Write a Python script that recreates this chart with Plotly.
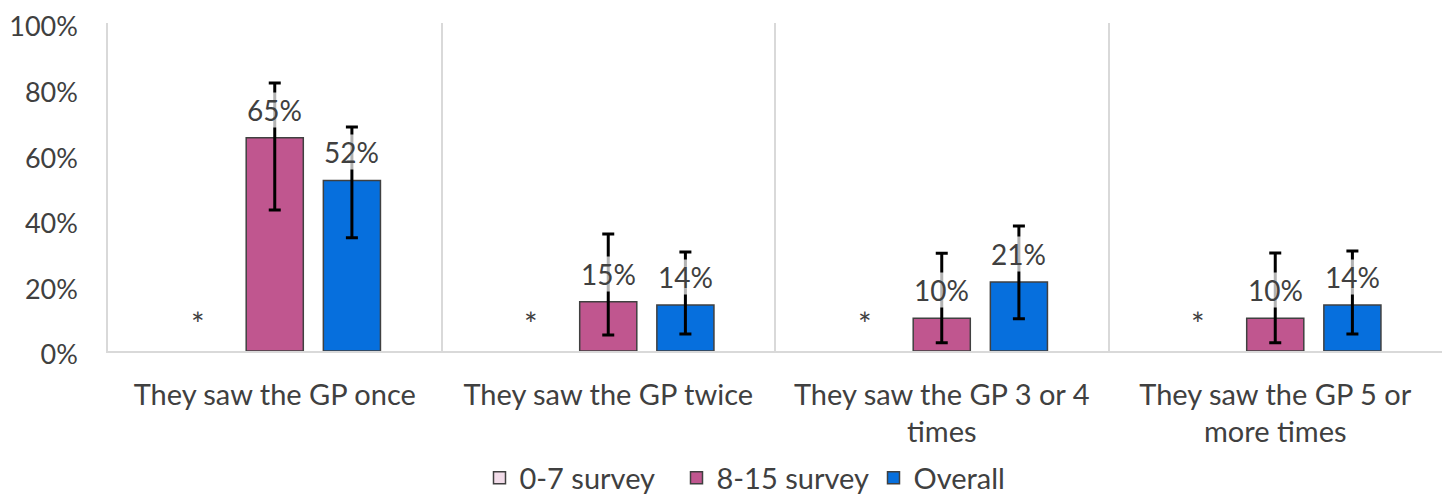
import plotly.graph_objects as go

categories = ["They saw the GP once", "They saw the GP twice",
              "They saw the GP 3 or 4<br>times", "They saw the GP 5 or<br>more times"]
series_names = ["0-7 survey", "8-15 survey", "Overall"]
s07 = [None, None, None, None]
s07_labels = ["*", "*", "*", "*"]
s815 = [0.65, 0.15, 0.10, 0.10]
s815_err_plus = [0.167, 0.207, 0.198, 0.199]
s815_err_minus = [0.22, 0.101, 0.075, 0.075]
overall = [0.52, 0.14, 0.21, 0.14]
overall_err_plus = [0.163, 0.162, 0.171, 0.165]
overall_err_minus = [0.175, 0.088, 0.112, 0.088]
y_ticks = [0, 0.2, 0.4, 0.6, 0.8, 1.0]

colors = ["#F2DCE9", "#C0568F", "#066FDD"]
outline = "#404040"
text_color = "#404040"
FONT = "Lato"
FS = 28

fig = go.Figure()
fig.add_trace(go.Bar(name=series_names[0], x=categories, y=s07,
                     marker=dict(color=colors[0], line=dict(color=outline, width=1.5))))
fig.add_trace(go.Bar(name=series_names[1], x=categories, y=s815,
                     marker=dict(color=colors[1], line=dict(color=outline, width=1.5)),
                     error_y=dict(type="data", symmetric=False, array=s815_err_plus,
                                  arrayminus=s815_err_minus, color="black", thickness=3, width=6)))
fig.add_trace(go.Bar(name=series_names[2], x=categories, y=overall,
                     marker=dict(color=colors[2], line=dict(color=outline, width=1.5)),
                     error_y=dict(type="data", symmetric=False, array=overall_err_plus,
                                  arrayminus=overall_err_minus, color="black", thickness=3, width=6)))

annotations = []
for i, c in enumerate(categories):
    annotations.append(dict(x=c, y=0, xref="x", yref="y", text=s07_labels[i], showarrow=False,
                            xshift=-77, yshift=28, font=dict(family=FONT, size=FS + 4, color=text_color)))
    annotations.append(dict(x=c, y=s815[i], xref="x", yref="y", text=f"{round(s815[i]*100)}%",
                            showarrow=False, yshift=28, bgcolor="rgba(255,255,255,0.7)",
                            borderpad=0, font=dict(family=FONT, size=FS, color=text_color)))
    annotations.append(dict(x=c, y=overall[i], xref="x", yref="y", text=f"{round(overall[i]*100)}%",
                            showarrow=False, xshift=77, yshift=28, bgcolor="rgba(255,255,255,0.7)",
                            borderpad=0, font=dict(family=FONT, size=FS, color=text_color)))

fig.update_layout(
    width=1451, height=494,
    margin=dict(l=100, r=17, t=15, b=151),
    paper_bgcolor="white", plot_bgcolor="white",
    barmode="group", bargap=0.306, bargroupgap=0.26,
    font=dict(family=FONT, size=FS, color=text_color),
    showlegend=True,
    legend=dict(orientation="h", x=0.5, xanchor="center", yref="container", y=0.0486,
                yanchor="middle", entrywidth=152, entrywidthmode="pixels",
                font=dict(family=FONT, size=29, color=text_color), itemwidth=30,
                tracegroupgap=0),
    annotations=annotations,
)
fig.update_xaxes(type="category", tickson="boundaries", showgrid=True, gridcolor="#D9D9D9",
                 gridwidth=1.5, showline=True, linecolor="#D9D9D9", linewidth=1.5, ticks="",
                 automargin=False,
                 ticklabelstandoff=17, tickfont=dict(family=FONT, size=29, color=text_color))
fig.update_yaxes(range=[0, 1], tickvals=y_ticks, tickformat=".0%", showgrid=False,
                 showline=True, linecolor="#D9D9D9", linewidth=1.5, zeroline=False,
                 automargin=False, ticklabeloverflow="allow", ticklabelshift=4,
                 ticks="", ticklabelstandoff=23, tickfont=dict(family=FONT, size=27, color=text_color))

fig.write_html("out.html")
